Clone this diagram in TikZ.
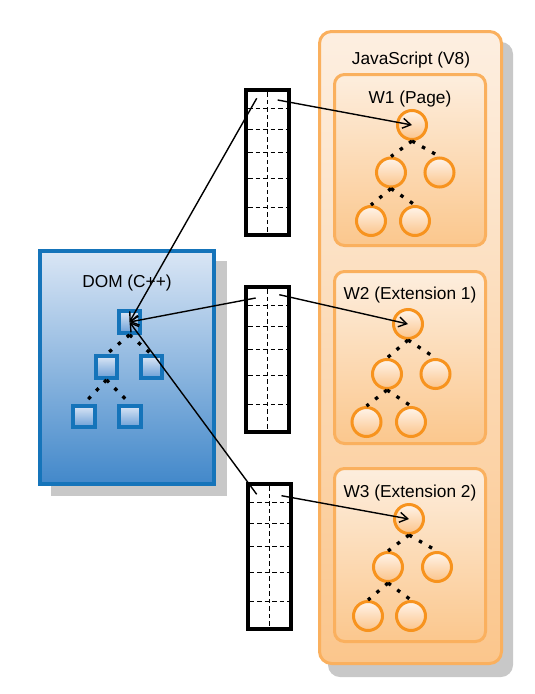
\documentclass[tikz,border=0pt]{standalone}
\usepackage{fontspec}
\setmainfont{Liberation Sans}
\usetikzlibrary{arrows.meta}
\definecolor{jsborder}{HTML}{FAB05E}
\definecolor{jstop}{HTML}{FDEFE1}
\definecolor{jsbot}{HTML}{FBC68C}
\definecolor{wtop}{HTML}{FDEEDE}
\definecolor{wbot}{HTML}{FBC78D}
\definecolor{cborder}{HTML}{F7931E}
\definecolor{ctop}{HTML}{FFF4EA}
\definecolor{cbot}{HTML}{FBC48A}
\definecolor{dompen}{HTML}{1574BA}
\definecolor{domtop}{HTML}{DAE6F5}
\definecolor{dombot}{HTML}{4288CA}
\definecolor{sqtop}{HTML}{DCE7F6}
\definecolor{sqbot}{HTML}{6A9ED6}
\definecolor{shadowgray}{HTML}{C8C8C8}
\begin{document}
\begin{tikzpicture}[x=1pt,y=-1pt,
  lbl/.style={font=\fontsize{17.3pt}{20pt}\selectfont, inner sep=0pt, anchor=center},
  shadowbox/.style={fill=shadowgray, draw=none},
  jsbox/.style={draw=jsborder, line width=3pt, rounded corners=12pt, top color=jstop, bottom color=jsbot, inner sep=0pt, outer sep=0pt},
  wbox/.style={draw=jsborder, line width=3pt, rounded corners=10pt, top color=wtop, bottom color=wbot, inner sep=0pt, outer sep=0pt, minimum width=151pt},
  domarea/.style={draw=dompen, line width=4pt, top color=domtop, bottom color=dombot, inner sep=0pt, outer sep=0pt},
  jsnode/.style={circle, draw=cborder, line width=3pt, minimum size=29pt, inner sep=0pt, top color=ctop, bottom color=cbot},
  domnode/.style={rectangle, draw=dompen, line width=4pt, minimum size=21.7pt, inner sep=0pt, top color=sqtop, bottom color=sqbot},
  treelink/.style={line width=3.3pt, dash pattern=on 3.5pt off 8pt},
  stackbox/.style={draw=black, line width=4pt, fill=white, inner sep=0pt, outer sep=0pt, minimum width=43pt, minimum height=144.5pt},
  cellsep/.style={line width=1pt, dash pattern=on 4.5pt off 3pt},
  ptr/.style={line width=1.4pt, -{Straight Barb[length=8pt,width=10pt]}}
]
\useasboundingbox (0,0) rectangle (535,694);
\fill[white] (0,0) rectangle (535,694);

% ---- JavaScript area ----
\fill[shadowgray, rounded corners=12pt] (328,42) rectangle (513,677);
\node[jsbox, minimum width=182pt, minimum height=632pt] (js) at (410.5,347.5) {};
\node[lbl] (jslbl) at (411,60) {JavaScript (V8)};

\node[wbox, minimum height=171pt] (w1) at (410,160) {};
\node[wbox, minimum height=172pt] (w2) at (410,357.5) {};
\node[wbox, minimum height=173pt] (w3) at (410,555) {};
\node[lbl] (w1lbl) at (410,99) {W1 (Page)};
\node[lbl] (w2lbl) at (410,295) {W2 (Extension 1)};
\node[lbl] (w3lbl) at (410,493) {W3 (Extension 2)};

% W1 tree
\node[jsnode] (w1r)  at (412,125) {};
\node[jsnode] (w1a)  at (391,172.5) {};
\node[jsnode] (w1b)  at (439.5,172.5) {};
\node[jsnode] (w1aa) at (371,221) {};
\node[jsnode] (w1ab) at (415,221) {};
% W2 tree
\node[jsnode] (w2r)  at (408,324) {};
\node[jsnode] (w2a)  at (387,374) {};
\node[jsnode] (w2b)  at (435.5,374) {};
\node[jsnode] (w2aa) at (366.5,422) {};
\node[jsnode] (w2ab) at (411,422) {};
% W3 tree
\node[jsnode] (w3r)  at (409,519) {};
\node[jsnode] (w3a)  at (388,567) {};
\node[jsnode] (w3b)  at (437,567) {};
\node[jsnode] (w3aa) at (368,616) {};
\node[jsnode] (w3ab) at (411,616) {};

\foreach \w in {w1,w2,w3}{
  \draw[treelink] (\w r.south) -- (\w a.north);
  \draw[treelink] (\w r.south) -- (\w b.north);
  \draw[treelink] (\w a.south) -- (\w aa.north);
  \draw[treelink] (\w a.south) -- (\w ab.north);
}

% ---- DOM area ----
\fill[shadowgray] (51,261) rectangle (227,496);
\node[domarea, minimum width=174pt, minimum height=233pt] (dom) at (127,367.5) {};
\node[lbl] (domlbl) at (127,283) {DOM (C++)};
\node[domnode] (dr)  at (129.5,322) {};
\node[domnode] (da)  at (106.5,367) {};
\node[domnode] (db)  at (151.5,367) {};
\node[domnode] (daa) at (84,416.5) {};
\node[domnode] (dab) at (130,416.5) {};
\draw[treelink] (dr.south) -- (da.north);
\draw[treelink] (dr.south) -- (db.north);
\draw[treelink] (da.south) -- (daa.north);
\draw[treelink] (da.south) -- (dab.north);

% ---- stacks ----
\foreach \n/\xl/\yt/\lx/\ly/\rx/\ry in {1/246/90.3/10.7/8/31.7/9.7, 2/246.3/287.3/9.4/10.7/33/7.4, 3/247.5/484.3/9.2/10/34/11.4}{
  \node[stackbox, anchor=north west] (s\n) at (\xl,\yt) {};
  \foreach \d in {18,39,62,88.5,117}{
    \draw[cellsep] (\xl+2,\yt+\d) -- (\xl+41,\yt+\d);
  }
  \draw[cellsep] (\xl+21.5,\yt+2) -- (\xl+21.5,\yt+142.5);
  \coordinate (s\n l) at (\xl+\lx,\yt+\ly);
  \coordinate (s\n r) at (\xl+\rx,\yt+\ry);
}

% ---- pointers ----
\draw[ptr] (s1r) -- (w1r.center);
\draw[ptr] (s2r) -- (w2r.center);
\draw[ptr] (s3r) -- (w3r.center);
\draw[ptr] (s1l) -- (dr.center);
\draw[ptr] (s2l) -- (dr.center);
\draw[ptr] (s3l) -- (dr.center);
\end{tikzpicture}
\end{document}
